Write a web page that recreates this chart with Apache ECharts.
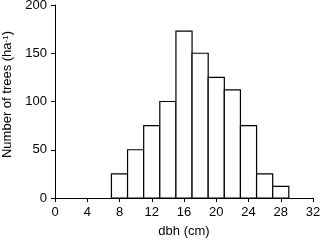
<!DOCTYPE html>
<html><head><meta charset="utf-8">
<script src="https://cdn.jsdelivr.net/npm/echarts@6/dist/echarts.min.js"></script>
<style>html,body{margin:0;padding:0;background:#fff}#c{width:320px;height:240px}</style>
</head><body><div id="c"></div>
<script>
const binCenters = [8, 10, 12, 14, 16, 18, 20, 22, 24, 26, 28];
const treeCounts = [25, 50, 75, 100, 173, 150, 125, 112, 75, 25, 12];
const binWidth = 2;
const xTicks = [0, 4, 8, 12, 16, 20, 24, 28, 32];
const yTicks = [0, 50, 100, 150, 200];

const chart = echarts.init(document.getElementById('c'), null, {renderer: 'canvas'});
const font = 'Liberation Sans';
chart.setOption({
  animation: false,
  backgroundColor: '#fff',
  grid: {left: 55, right: 7, top: 5, bottom: 42, containLabel: false, outerBoundsMode: 'none'},
  xAxis: {
    type: 'value', min: xTicks[0], max: xTicks[xTicks.length - 1], interval: 4,
    name: 'dbh (cm)', nameLocation: 'middle', nameGap: 27,
    nameTextStyle: {fontFamily: font, fontSize: 13, color: '#000'},
    axisLine: {show: true, lineStyle: {color: '#000', width: 1}},
    axisTick: {show: true, length: 4, lineStyle: {color: '#000'}},
    axisLabel: {fontFamily: font, fontSize: 13, color: '#000', margin: 8},
    splitLine: {show: false}
  },
  yAxis: {
    type: 'value', min: yTicks[0], max: yTicks[yTicks.length - 1], interval: 50,
    name: 'Number of trees (ha{sup|-1})', nameLocation: 'middle', nameGap: 40,
    nameTextStyle: {fontFamily: font, fontSize: 13, color: '#000', padding: [0, 0, 0, 14],
      rich: {sup: {fontFamily: font, fontSize: 8, color: '#000', verticalAlign: 'top', lineHeight: 13}}},
    axisLine: {show: true, lineStyle: {color: '#000', width: 1}},
    axisTick: {show: true, length: 4, lineStyle: {color: '#000'}},
    axisLabel: {fontFamily: font, fontSize: 13, color: '#000', margin: 8},
    splitLine: {show: false}
  },
  series: [{
    type: 'custom',
    data: binCenters.map((c, i) => [c, treeCounts[i]]),
    encode: {x: 0, y: 1},
    renderItem: function (params, api) {
      const c = api.value(0), v = api.value(1);
      const p0 = api.coord([c - binWidth / 2, v]);
      const p1 = api.coord([c + binWidth / 2, 0]);
      return {
        type: 'rect',
        shape: {x: p0[0], y: p0[1], width: p1[0] - p0[0], height: p1[1] - p0[1]},
        style: {fill: '#fff', stroke: '#000', lineWidth: 1.2}
      };
    }
  }]
});
</script></body></html>
